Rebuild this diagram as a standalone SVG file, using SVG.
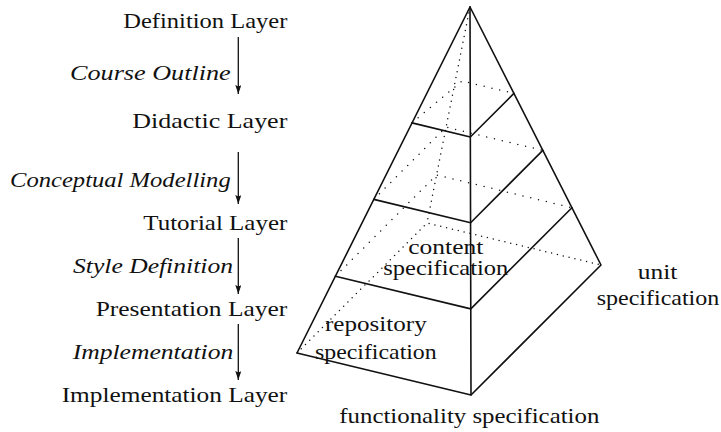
<svg xmlns="http://www.w3.org/2000/svg" width="721" height="432" viewBox="0 0 721 432">
  <style>
    .lbl { font-family: 'Liberation Serif', 'Times New Roman', 'DejaVu Serif', serif; font-size: 21px; fill: #111; }
    .it { font-style: italic; }
    .solid { fill: none; stroke: #111; stroke-width: 1.6; stroke-linejoin: round; stroke-linecap: round; }
    .dot { fill: none; stroke: #111; stroke-width: 1.5; stroke-linecap: round; stroke-dasharray: 0 6; }
    .dotw { stroke-dasharray: 0 8; }
    .flow { fill: none; stroke: #111; stroke-width: 1.3; }
  </style>
  <defs>
    <marker id="head" viewBox="0 0 9 6" refX="9" refY="3" markerWidth="9" markerHeight="6" markerUnits="userSpaceOnUse" orient="auto">
      <path d="M0,0 L9,3 L0,6 L1.5,3 Z" fill="#111"/>
    </marker>
  </defs>

  <rect width="721" height="432" fill="#fff"/>

  <!-- layer stack on the left -->
  <g id="definition-layer"><text class="lbl" font-family="Liberation Serif, serif" x="287.3" y="27.5" text-anchor="end" textLength="164" lengthAdjust="spacingAndGlyphs">Definition Layer</text></g>
  <g id="didactic-layer"><text class="lbl" x="287.3" y="128" text-anchor="end" textLength="155" lengthAdjust="spacingAndGlyphs">Didactic Layer</text></g>
  <g id="tutorial-layer"><text class="lbl" x="287.3" y="229.5" text-anchor="end" textLength="144" lengthAdjust="spacingAndGlyphs">Tutorial Layer</text></g>
  <g id="presentation-layer"><text class="lbl" x="287.3" y="315.5" text-anchor="end" textLength="191.6" lengthAdjust="spacingAndGlyphs">Presentation Layer</text></g>
  <g id="implementation-layer"><text class="lbl" x="287.3" y="402" text-anchor="end" textLength="225.6" lengthAdjust="spacingAndGlyphs">Implementation Layer</text></g>

  <!-- transitions between layers -->
  <g id="connectors">
    <line class="flow" x1="238.3" y1="37" x2="238.3" y2="94" marker-end="url(#head)"/>
    <line class="flow" x1="238.3" y1="152" x2="238.3" y2="204" marker-end="url(#head)"/>
    <line class="flow" x1="238.3" y1="238" x2="238.3" y2="294" marker-end="url(#head)"/>
    <line class="flow" x1="238.3" y1="324" x2="238.3" y2="380" marker-end="url(#head)"/>
    <text class="lbl it" x="230.7" y="79.5" text-anchor="end" textLength="160.7" lengthAdjust="spacingAndGlyphs">Course Outline</text>
    <text class="lbl it" x="230.7" y="186.5" text-anchor="end" textLength="220.7" lengthAdjust="spacingAndGlyphs">Conceptual Modelling</text>
    <text class="lbl it" x="233" y="272.5" text-anchor="end" textLength="160" lengthAdjust="spacingAndGlyphs">Style Definition</text>
    <text class="lbl it" x="233.3" y="358.5" text-anchor="end" textLength="160.6" lengthAdjust="spacingAndGlyphs">Implementation</text>
  </g>

  <!-- pyramid: hidden edges dotted, visible edges solid -->
  <g id="pyramid">
    <!-- hidden back edges -->
    <path class="dot" d="M470,7 L427,223"/>
    <path class="dot" d="M297,353 L427,223 L601,265"/>
    <path class="dot dotw" d="M412,122.9 L462,81 L513.9,93.4"/>
    <path class="dot dotw" d="M373.8,199.4 L446.1,127.1 L542.8,150.4"/>
    <path class="dot dotw" d="M335.4,276.2 L436.5,175 L571.9,207.7"/>
    <!-- visible edges -->
    <path class="solid" d="M297,353 L470,7 L601,265 L471,395 Z"/>
    <path class="solid" d="M470,7 L471,395"/>
    <!-- layer cuts on the front faces -->
    <path class="solid" d="M412,122.9 L470.3,137 L513.9,93.4"/>
    <path class="solid" d="M373.8,199.4 L470.6,222.7 L542.8,150.4"/>
    <path class="solid" d="M335.4,276.2 L470.8,308.9 L571.9,207.7"/>
  </g>

  <!-- pyramid labels -->
  <g id="content-spec">
    <text class="lbl" x="408.3" y="253.5" textLength="75" lengthAdjust="spacingAndGlyphs">content</text>
    <text class="lbl" x="383.3" y="274.5" textLength="125" lengthAdjust="spacingAndGlyphs">specification</text>
  </g>
  <g id="repository-spec">
    <text class="lbl" x="325" y="331" textLength="101.7" lengthAdjust="spacingAndGlyphs">repository</text>
    <text class="lbl" x="315" y="358.5" textLength="121.7" lengthAdjust="spacingAndGlyphs">specification</text>
  </g>
  <g id="unit-spec">
    <text class="lbl" x="637.7" y="278.5" textLength="39.6" lengthAdjust="spacingAndGlyphs">unit</text>
    <text class="lbl" x="596.7" y="304.5" textLength="122.6" lengthAdjust="spacingAndGlyphs">specification</text>
  </g>
  <g id="functionality-spec">
    <text class="lbl" x="339.3" y="423" textLength="260" lengthAdjust="spacingAndGlyphs">functionality specification</text>
  </g>
</svg>
